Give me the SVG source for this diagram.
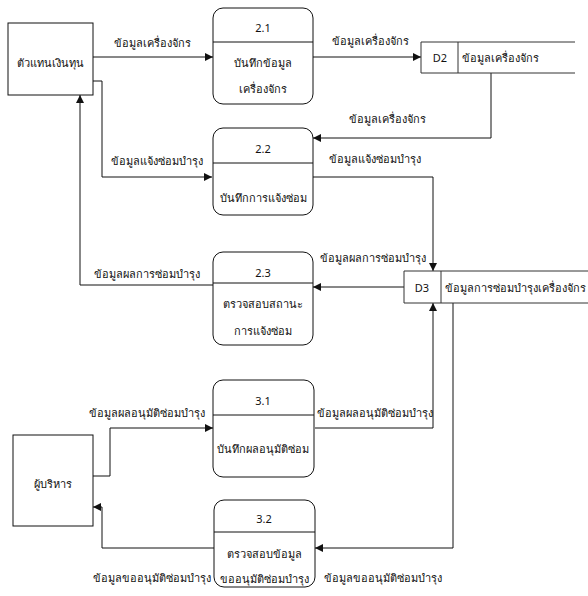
<svg xmlns="http://www.w3.org/2000/svg" width="588" height="596" viewBox="0 0 588 596">
<style>
text{font-family:"Noto Sans","Liberation Sans","DejaVu Sans",sans-serif;font-size:11px;fill:#111;dominant-baseline:central}
.c{text-anchor:middle}
.box{fill:#fff;stroke:#111;stroke-width:1}
.proc{fill:#fff;stroke:#111;stroke-width:1}
.ln{stroke:#111;stroke-width:1;fill:none}
.st{stroke:#333;stroke-width:1;fill:none}
.flow{fill:none;stroke:#111;stroke-width:1;marker-end:url(#ah)}
</style>
<defs>
<marker id="ah" viewBox="0 0 10 10" refX="10" refY="5" markerWidth="9" markerHeight="8" markerUnits="userSpaceOnUse" orient="auto">
<path d="M0,0 L10,5 L0,10 z" fill="#111"/>
</marker>
</defs>
<rect width="588" height="596" fill="#fff"/>

<g id="connectors">
<path class="flow" d="M93,57 H213"/>
<path class="flow" d="M313,57 H421"/>
<path class="flow" d="M491,73 V138 H313"/>
<path class="flow" d="M93,81 H102 V177 H212"/>
<path class="flow" d="M313,177 H433 V271"/>
<path class="flow" d="M404,287 H313"/>
<path class="flow" d="M213,285 H80 V95"/>
<path class="flow" d="M93,476 H110 V428 H213"/>
<path class="flow" d="M315,428 H433 V303"/>
<path class="flow" d="M453,303 V548 H315"/>
<path class="flow" d="M214,548 H102 V507 H93"/>
<text class="c" x="152" y="42">ข้อมูลเครื่องจักร</text>
<text class="c" x="370" y="40">ข้อมูลเครื่องจักร</text>
<text class="c" x="387" y="118">ข้อมูลเครื่องจักร</text>
<text class="c" x="157" y="160">ข้อมูลแจ้งซ่อมบำรุง</text>
<text class="c" x="375" y="158">ข้อมูลแจ้งซ่อมบำรุง</text>
<text class="c" x="373" y="257">ข้อมูลผลการซ่อมบำรุง</text>
<text class="c" x="147" y="273">ข้อมูลผลการซ่อมบำรุง</text>
<text class="c" x="147" y="412">ข้อมูลผลอนุมัติซ่อมบำรุง</text>
<text class="c" x="375" y="412">ข้อมูลผลอนุมัติซ่อมบำรุง</text>
<text class="c" x="152" y="577">ข้อมูลขออนุมัติซ่อมบำรุง</text>
<text class="c" x="383" y="577">ข้อมูลขออนุมัติซ่อมบำรุง</text>
</g>

<g id="entity-fund">
<rect class="box" x="8" y="23" width="85" height="72"/>
<text class="c" x="50" y="62">ตัวแทนเงินทุน</text>
</g>

<g id="entity-exec">
<rect class="box" x="13" y="435" width="80" height="91"/>
<text class="c" x="53" y="483">ผู้บริหาร</text>
</g>

<g id="p2-1">
<rect class="proc" x="213" y="8" width="100" height="96" rx="10"/>
<path class="ln" d="M213,42 H313"/>
<text class="c" x="263" y="27">2.1</text>
<text class="c" x="263" y="62">บันทึกข้อมูล</text>
<text class="c" x="263" y="88">เครื่องจักร</text>
</g>

<g id="p2-2">
<rect class="proc" x="213" y="128" width="100" height="87" rx="10"/>
<path class="ln" d="M213,163 H313"/>
<text class="c" x="263" y="148">2.2</text>
<text class="c" x="263" y="197">บันทึกการแจ้งซ่อม</text>
</g>

<g id="p2-3">
<rect class="proc" x="213" y="252" width="100" height="93" rx="10"/>
<path class="ln" d="M213,283 H313"/>
<text class="c" x="263" y="272">2.3</text>
<text class="c" x="263" y="303">ตรวจสอบสถานะ</text>
<text class="c" x="263" y="330">การแจ้งซ่อม</text>
</g>

<g id="p3-1">
<rect class="proc" x="213" y="380" width="101" height="97" rx="10"/>
<path class="ln" d="M213,415 H314"/>
<text class="c" x="263" y="400">3.1</text>
<text class="c" x="263" y="448">บันทึกผลอนุมัติซ่อม</text>
</g>

<g id="p3-2">
<rect class="proc" x="214" y="500" width="101" height="87" rx="10"/>
<path class="ln" d="M214,532 H315"/>
<text class="c" x="264" y="518">3.2</text>
<text class="c" x="264" y="553">ตรวจสอบข้อมูล</text>
<text class="c" x="264" y="578">ขออนุมัติซ่อมบำรุง</text>
</g>

<g id="store-d2">
<rect x="421" y="42" width="154" height="31" fill="#fff" stroke="none"/>
<path class="st" d="M575,42 H421 V73 H575 M458,42 V73"/>
<text class="c" x="440" y="57">D2</text>
<text x="462" y="57">ข้อมูลเครื่องจักร</text>
</g>

<g id="store-d3">
<rect x="404" y="271" width="184" height="32" fill="#fff" stroke="none"/>
<path class="st" d="M588,271 H404 V303 H588 M441,271 V303"/>
<text class="c" x="422" y="287">D3</text>
<text x="445" y="287">ข้อมูลการซ่อมบำรุงเครื่องจักร</text>
</g>
</svg>
